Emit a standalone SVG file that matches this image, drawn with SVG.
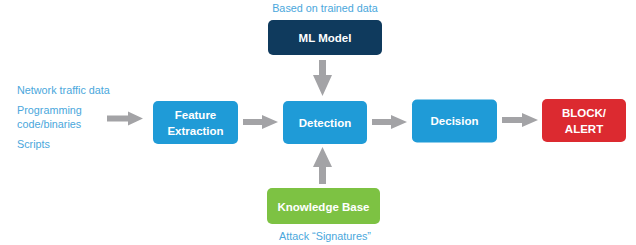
<svg xmlns="http://www.w3.org/2000/svg" width="636" height="245" viewBox="0 0 636 245">
  <defs>
    <style>
      .box { stroke: none; }
      .blue { fill: #1f9bd7; }
      .navy { fill: #0f3a5d; }
      .red { fill: #dc2a30; }
      .green { fill: #7dc243; }
      .label { font-family: "Liberation Sans", Arial, sans-serif; font-size: 11.5px; font-weight: bold; fill: #ffffff; text-anchor: middle; dominant-baseline: central; }
      .note { font-family: "Liberation Sans", Arial, sans-serif; font-size: 10.8px; fill: #4aa7dc; dominant-baseline: central; }
      .arrow { fill: #a3a3a6; }
    </style>
  </defs>

  <rect width="636" height="245" fill="#ffffff"/>

  <!-- input sources -->
  <g id="inputs">
    <text class="note" x="17" y="90">Network traffic data</text>
    <text class="note" x="17" y="110">Programming</text>
    <text class="note" x="17" y="124">code/binaries</text>
    <text class="note" x="17" y="144">Scripts</text>
  </g>

  <g id="ml-model">
    <text class="note" x="325" y="8" text-anchor="middle">Based on trained data</text>
    <rect class="box navy" x="268" y="20" width="114" height="35" rx="5"/>
    <text class="label" x="325" y="37.5">ML Model</text>
  </g>

  <g id="feature-extraction">
    <rect class="box blue" x="153" y="101" width="85" height="43" rx="5"/>
    <text class="label" x="195.5" y="115">Feature</text>
    <text class="label" x="195.5" y="131">Extraction</text>
  </g>

  <g id="detection">
    <rect class="box blue" x="283" y="101" width="84" height="43" rx="5"/>
    <text class="label" x="325" y="122.5">Detection</text>
  </g>

  <g id="decision">
    <rect class="box blue" x="412" y="99.5" width="85" height="43" rx="5"/>
    <text class="label" x="454.5" y="121">Decision</text>
  </g>

  <g id="block-alert">
    <rect class="box red" x="542" y="99" width="84" height="43" rx="5"/>
    <text class="label" x="584" y="113">BLOCK/</text>
    <text class="label" x="584" y="129">ALERT</text>
  </g>

  <g id="knowledge-base">
    <rect class="box green" x="267" y="188" width="113" height="36" rx="5"/>
    <text class="label" x="323.5" y="206.5">Knowledge Base</text>
    <text class="note" x="325" y="235.5" text-anchor="middle">Attack “Signatures”</text>
  </g>

  <!-- connectors: block arrows -->
  <g id="connectors">
    <!-- inputs -> feature extraction -->
    <polygon class="arrow" points="107,115.5 128,115.5 128,111.5 143,118.5 128,125.5 128,121.5 107,121.5"/>
    <!-- feature extraction -> detection -->
    <polygon class="arrow" points="243,119 262,119 262,115 278,122 262,129 262,125 243,125"/>
    <!-- detection -> decision -->
    <polygon class="arrow" points="372,119 391,119 391,115 407,122 391,129 391,125 372,125"/>
    <!-- decision -> block/alert -->
    <polygon class="arrow" points="502,117 522,117 522,113 538,120 522,127 522,123 502,123"/>
    <!-- ml model -> detection -->
    <polygon class="arrow" points="319,60 326,60 326,75 332,75 322.5,96 313,75 319,75"/>
    <!-- knowledge base -> detection -->
    <polygon class="arrow" points="319,184 326,184 326,167 332,167 322.5,147 313,167 319,167"/>
  </g>
</svg>
